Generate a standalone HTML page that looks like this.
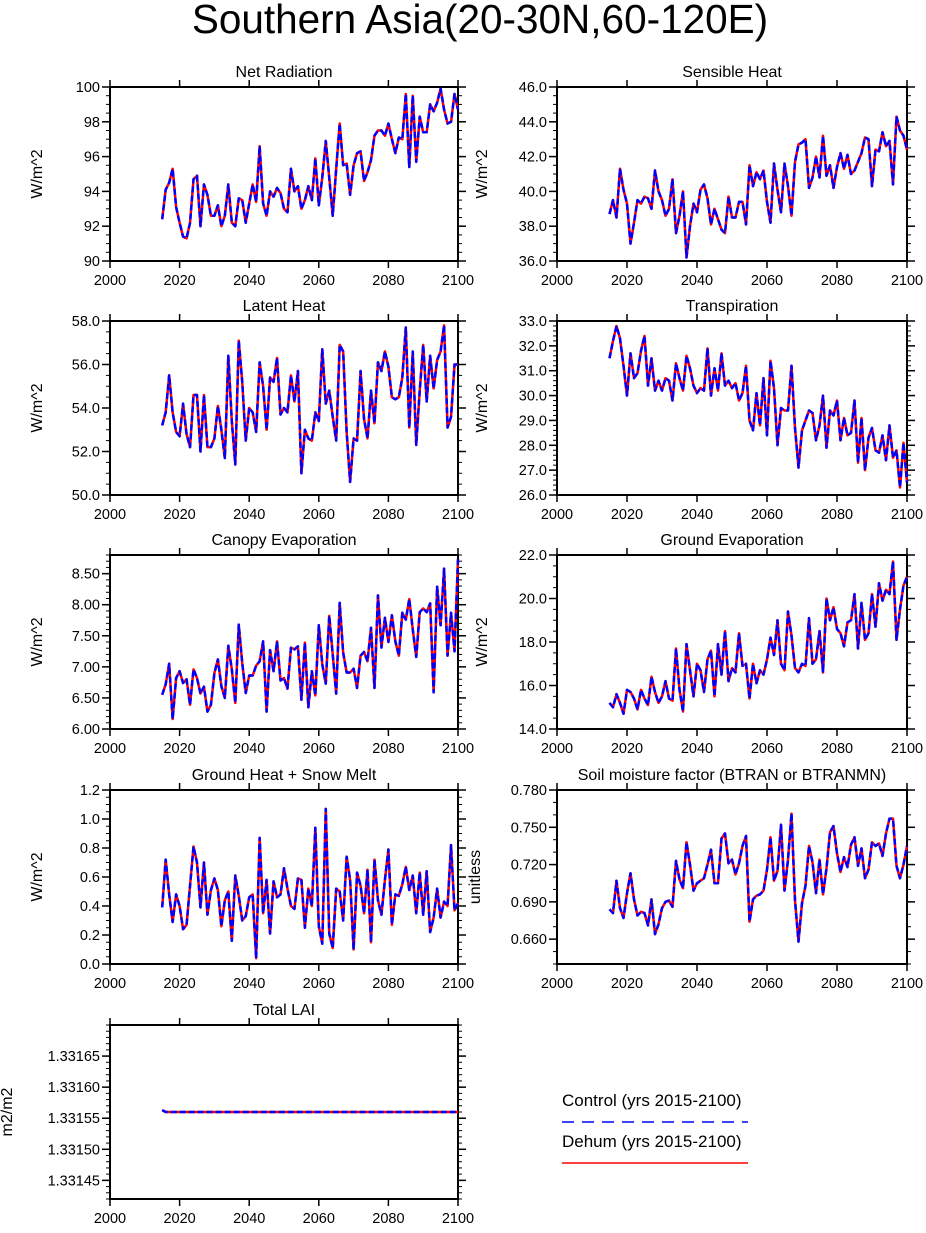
<!DOCTYPE html>
<html><head><meta charset="utf-8">
<style>
html,body{margin:0;padding:0;background:#fff;}
svg{display:block;font-family:"Liberation Sans",sans-serif;}
</style></head>
<body>
<svg id="chart" width="926" height="1233" viewBox="0 0 926 1233">
<text x="480" y="33" text-anchor="middle" font-size="40.5">Southern Asia(20-30N,60-120E)</text>
<g id="panels"></g>
<g>
<text x="562" y="1106" font-size="17">Control (yrs 2015-2100)</text>
<line x1="562" y1="1122" x2="748" y2="1122" stroke="#0000ff" stroke-width="1.5" stroke-dasharray="12,8"/>
<text x="562" y="1147" font-size="17">Dehum (yrs 2015-2100)</text>
<line x1="562" y1="1163" x2="748" y2="1163" stroke="#ff0000" stroke-width="1.5"/>
</g>
</svg>
<script>
const startYear = 2015;
const xTicks = [2000, 2020, 2040, 2060, 2080, 2100];
const netRad = [92.4,94.1,94.5,95.3,93.1,92.2,91.4,91.3,92.2,94.7,94.9,92.0,94.4,93.8,92.6,92.6,93.2,92.0,92.6,94.4,92.2,92.0,93.6,93.5,92.2,93.3,94.4,93.4,96.6,93.3,92.6,94.0,93.7,94.2,93.9,93.0,92.8,95.3,94.0,94.3,93.0,93.5,94.3,93.5,95.9,93.2,94.8,96.9,94.8,92.6,95.3,97.9,95.5,95.6,93.8,95.5,96.2,96.3,94.6,95.1,95.8,97.2,97.5,97.5,97.2,97.9,97.0,96.2,97.1,97.0,99.6,95.4,99.5,95.7,98.3,97.4,97.4,99.0,98.6,99.1,99.9,98.7,97.9,98.0,99.6,98.7];
const sensHeat = [38.7,39.5,38.5,41.3,40.1,39.3,37.0,38.2,39.5,39.3,39.7,39.6,39.0,41.2,40.0,39.5,38.6,39.0,40.7,37.6,38.6,40.0,36.2,38.0,39.3,38.8,40.1,40.4,39.6,38.1,39.0,38.4,37.8,37.6,39.7,38.5,38.5,39.4,39.4,38.1,41.5,40.3,41.1,40.7,41.2,39.4,38.2,41.6,40.1,38.8,41.6,40.3,38.6,41.7,42.7,42.8,43.0,40.2,40.8,42.0,40.8,43.2,40.9,41.5,40.2,41.4,42.2,41.3,42.1,41.0,41.2,41.7,42.2,43.1,43.0,40.3,42.4,42.3,43.4,42.6,42.9,40.4,44.3,43.5,43.2,42.4];
const latHeat = [53.2,53.8,55.5,53.8,52.9,52.7,54.2,52.8,52.2,54.6,54.6,52.0,54.6,52.2,52.2,52.6,54.1,53.0,51.7,56.4,53.4,51.4,57.1,55.2,52.5,54.0,53.8,52.9,56.1,55.0,53.0,55.4,55.2,56.3,53.7,54.0,53.8,55.5,54.3,55.7,51.0,53.0,52.6,52.5,53.8,53.4,56.7,54.2,54.8,53.6,52.5,56.9,56.6,52.9,50.6,52.6,52.5,55.7,53.5,52.6,54.8,53.3,56.1,55.7,56.6,55.9,54.5,54.4,54.5,55.4,57.7,53.1,56.6,52.3,54.8,56.9,54.3,56.4,54.9,56.2,56.6,57.8,53.1,53.6,56.0,56.0];
const transp = [31.5,32.2,32.8,32.3,31.2,30.0,31.7,30.7,30.9,31.8,32.4,30.4,31.5,30.2,30.6,30.2,30.7,30.6,29.8,31.3,30.7,30.2,31.6,31.1,30.4,30.1,30.3,30.2,31.9,30.0,31.1,30.2,31.7,30.4,30.6,30.3,30.5,29.8,30.1,31.2,29.0,28.6,30.1,28.8,30.7,28.4,31.4,30.3,28.0,29.5,29.4,29.4,31.2,28.7,27.1,28.6,29.0,29.4,29.3,28.2,28.8,30.0,27.9,29.4,29.2,29.8,28.2,29.1,28.4,28.5,29.8,27.3,29.1,27.0,28.3,28.7,27.8,27.7,28.4,27.4,28.8,27.5,27.8,26.3,28.1,26.5];
const canEvap = [6.55,6.72,7.05,6.16,6.82,6.93,6.74,6.80,6.39,6.96,6.82,6.57,6.68,6.28,6.39,6.90,7.12,6.69,6.50,7.34,6.96,6.42,7.68,7.06,6.58,6.86,6.86,7.02,7.09,7.41,6.28,7.27,6.93,7.41,6.78,6.82,6.65,7.31,7.28,7.33,6.47,7.39,6.35,6.93,6.54,7.67,7.04,6.73,7.82,7.20,6.57,8.03,7.23,6.91,6.91,6.97,6.66,7.18,7.24,7.09,7.63,6.66,8.15,7.31,7.79,7.40,7.83,7.41,7.18,7.87,7.76,8.09,7.60,7.16,7.88,7.94,7.88,8.02,6.59,8.29,7.67,8.58,7.18,7.87,7.25,8.73];
const grdEvap = [15.2,15.0,15.6,15.2,14.7,15.8,15.7,15.4,14.9,15.8,15.4,15.1,16.4,15.7,15.2,15.5,16.2,15.4,15.3,17.7,15.8,14.8,17.9,16.7,15.5,17.0,16.7,15.7,17.2,17.6,15.5,17.9,16.5,18.5,16.2,16.8,16.6,18.4,16.9,17.0,15.4,17.0,16.1,16.7,16.5,17.2,18.2,17.4,19.0,17.0,16.7,19.4,18.3,16.8,16.6,17.0,16.9,19.1,17.0,17.2,18.5,16.6,20.0,19.0,19.6,18.6,18.4,17.8,18.9,19.0,20.2,17.7,19.8,18.1,18.4,20.2,18.7,20.7,19.9,20.4,20.2,21.7,18.1,19.5,20.6,21.0];
const grdHeat = [0.39,0.72,0.48,0.29,0.48,0.40,0.24,0.27,0.54,0.81,0.70,0.39,0.70,0.34,0.51,0.59,0.51,0.26,0.44,0.50,0.16,0.61,0.47,0.30,0.33,0.46,0.48,0.04,0.87,0.35,0.58,0.21,0.57,0.46,0.48,0.66,0.52,0.40,0.38,0.59,0.58,0.25,0.52,0.40,0.94,0.26,0.14,1.07,0.21,0.11,0.52,0.50,0.30,0.74,0.58,0.10,0.63,0.54,0.35,0.65,0.15,0.72,0.44,0.34,0.58,0.79,0.27,0.48,0.47,0.55,0.67,0.51,0.61,0.35,0.63,0.34,0.64,0.22,0.32,0.52,0.32,0.43,0.40,0.82,0.37,0.42];
const btran = [0.684,0.681,0.707,0.685,0.677,0.697,0.713,0.692,0.679,0.682,0.681,0.671,0.692,0.664,0.672,0.685,0.690,0.691,0.686,0.723,0.708,0.701,0.738,0.720,0.699,0.705,0.707,0.709,0.720,0.732,0.705,0.705,0.741,0.745,0.721,0.724,0.712,0.721,0.735,0.743,0.674,0.692,0.695,0.696,0.699,0.716,0.742,0.707,0.715,0.752,0.699,0.724,0.761,0.691,0.658,0.689,0.703,0.735,0.722,0.697,0.724,0.696,0.717,0.746,0.751,0.729,0.714,0.726,0.718,0.736,0.742,0.719,0.733,0.709,0.716,0.738,0.735,0.737,0.727,0.745,0.757,0.757,0.719,0.709,0.720,0.735];
const laiFirst = [1.331563];
const laiRest = [1.33156];
const lai = laiFirst.concat(Array(85).fill(laiRest[0]));

const panels = [
 {name:'net-radiation', title:'Net Radiation', ylab:'W/m^2', data:netRad, col:0,row:0, ymin:90,ymax:100, major:2, minor:0.5, dec:0, labx:42},
 {name:'sensible-heat', title:'Sensible Heat', ylab:'W/m^2', data:sensHeat, col:1,row:0, ymin:36,ymax:46, major:2, minor:0.5, dec:1, labx:487},
 {name:'latent-heat', title:'Latent Heat', ylab:'W/m^2', data:latHeat, col:0,row:1, ymin:50,ymax:58, major:2, minor:0.5, dec:1, labx:42},
 {name:'transpiration', title:'Transpiration', ylab:'W/m^2', data:transp, col:1,row:1, ymin:26,ymax:33, major:1, minor:0.2, dec:1, labx:487},
 {name:'canopy-evaporation', title:'Canopy Evaporation', ylab:'W/m^2', data:canEvap, col:0,row:2, ymin:6,ymax:8.8, major:0.5, minor:0.1, dec:2, labx:42},
 {name:'ground-evaporation', title:'Ground Evaporation', ylab:'W/m^2', data:grdEvap, col:1,row:2, ymin:14,ymax:22, major:2, minor:0.5, dec:1, labx:487},
 {name:'ground-heat-snow-melt', title:'Ground Heat + Snow Melt', ylab:'W/m^2', data:grdHeat, col:0,row:3, ymin:0,ymax:1.2, major:0.2, minor:0.05, dec:1, labx:42},
 {name:'soil-moisture-factor', title:'Soil moisture factor (BTRAN or BTRANMN)', ylab:'unitless', data:btran, col:1,row:3, ymin:0.64,ymax:0.78, major:0.03, minor:0.01, dec:3, labx:480, mstart:0.66},
 {name:'total-lai', title:'Total LAI', ylab:'m2/m2', data:lai, col:0,row:4, ymin:1.33142,ymax:1.33170, major:0.00005, minor:0.00001, dec:5, labx:12, mstart:1.33145, mend:1.33166}
];
const colX = [[110,458],[557,907]];
const rowY = [87,321,555,790,1025];
const ph = 174;
const NS='http://www.w3.org/2000/svg';
const root=document.getElementById('panels');
function mk(tag,attrs,parent){const e=document.createElementNS(NS,tag);for(const k in attrs)e.setAttribute(k,attrs[k]);parent.appendChild(e);return e;}

panels.forEach(p=>{
  const x0=colX[p.col][0], x1=colX[p.col][1], y0=rowY[p.row], y1=y0+ph;
  const xs=v=>x0+(v-2000)/100*(x1-x0);
  const ys=v=>y1-(v-p.ymin)/(p.ymax-p.ymin)*ph;
  const g=mk('g',{},root);
  
  
  const t=mk('text',{x:(x0+x1)/2,y:y0-10,'text-anchor':'middle','font-size':'16'},g);
  t.textContent=p.title;
  
  
  const yl=mk('text',{x:p.labx,y:(y0+y1)/2,'text-anchor':'middle','font-size':'16',transform:'rotate(-90 '+p.labx+' '+((y0+y1)/2)+')'},g);
  yl.textContent=p.ylab;
  
  
  xTicks.forEach(v=>{
    const x=xs(v);
    mk('line',{x1:x,y1:y1,x2:x,y2:y1+7,stroke:'#000','stroke-width':'1.5'},g);
    mk('line',{x1:x,y1:y0,x2:x,y2:y0-7,stroke:'#000','stroke-width':'1.5'},g);
    const tl=mk('text',{x:x,y:y1+24,'text-anchor':'middle','font-size':'14.5'},g);
    tl.textContent=v;
    
    
  });
  const nMin=Math.round((p.ymax-p.ymin)/p.minor);
  for(let i=0;i<=nMin;i++){
    const v=p.ymin+i*p.minor, y=ys(v);
    mk('line',{x1:x0,y1:y,x2:x0-4,y2:y,stroke:'#000','stroke-width':'1'},g);
    mk('line',{x1:x1,y1:y,x2:x1+4,y2:y,stroke:'#000','stroke-width':'1'},g);
  }
  const ms=(p.mstart!==undefined)?p.mstart:p.ymin;
  const me=(p.mend!==undefined)?p.mend:p.ymax+1e-9;
  for(let v=ms; v<=me; v+=p.major){
    const y=ys(v);
    mk('line',{x1:x0,y1:y,x2:x0-8,y2:y,stroke:'#000','stroke-width':'1.5'},g);
    mk('line',{x1:x1,y1:y,x2:x1+8,y2:y,stroke:'#000','stroke-width':'1.5'},g);
    const tl=mk('text',{x:x0-10,y:y+5,'text-anchor':'end','font-size':'14.5'},g);
    tl.textContent=v.toFixed(p.dec);
    
    
  }
  const box=mk('rect',{x:x0,y:y0,width:x1-x0,height:ph,fill:'none',stroke:'#000','stroke-width':'2'},g);
  
  
  const pts=p.data.map((v,i)=>xs(startYear+i).toFixed(2)+','+ys(v).toFixed(2)).join(' ');
  const r=mk('polyline',{points:pts,fill:'none',stroke:'#ff0000','stroke-width':'2.5','stroke-linejoin':'round'},g);
  
  
  const b=mk('polyline',{points:pts,fill:'none',stroke:'#0000ff','stroke-width':'2.5','stroke-dasharray':'6,3','stroke-linejoin':'round'},g);
  
  
});
</script>
</body></html>
